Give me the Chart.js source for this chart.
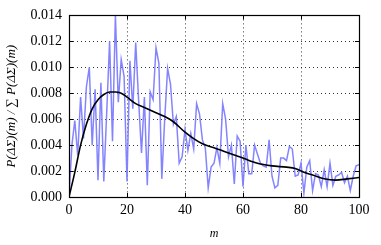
<!DOCTYPE html>
<html>
<head>
<meta charset="utf-8">
<script src="https://cdn.jsdelivr.net/npm/chart.js@4/dist/chart.umd.min.js"></script>
<style>
  html, body { margin: 0; padding: 0; background: #fff; }
  #wrap { width: 381px; height: 245px; }
</style>
</head>
<body>
<div id="wrap"><canvas id="c" width="381" height="245"></canvas></div>
<script>
// Noisy series: m = 0..100
const mValues = Array.from({length: 101}, (_, i) => i);
const noisySeries = [
  0.0000, 0.0040, 0.0059, 0.0032, 0.0077, 0.0045, 0.0085, 0.0100, 0.0040, 0.0083,
  0.0013, 0.0088, 0.0012, 0.0065, 0.0120, 0.0043, 0.0140, 0.0073, 0.0106, 0.0093,
  0.0012, 0.0105, 0.0068, 0.0119, 0.0075, 0.0034, 0.0077, 0.0009, 0.0081, 0.0075,
  0.0115, 0.0103, 0.0014, 0.0060, 0.0099, 0.0087, 0.0056, 0.0062, 0.0026, 0.0031,
  0.0052, 0.0036, 0.0049, 0.0037, 0.0072, 0.0064, 0.0044, 0.0038, 0.0007, 0.0023,
  0.0026, 0.0038, 0.0026, 0.0072, 0.0060, 0.0031, 0.0040, 0.0010, 0.0047, 0.0043,
  0.0008, 0.0040, 0.0018, 0.0018, 0.0040, 0.0033, 0.0026, 0.0024, 0.0023, 0.0044,
  0.0016, 0.0007, 0.0009, 0.0030, 0.0030, 0.0028, 0.0039, 0.0037, 0.0016, 0.0017,
  0.0026, 0.0003, 0.0023, 0.0028, 0.0005, 0.0018, 0.0017, 0.0008, 0.0021, 0.0008,
  0.0026, 0.0009, 0.0016, 0.0017, 0.0019, 0.0011, 0.0016, 0.0005, 0.0016, 0.0024,
  0.0025
];
// Smooth curve, sampled
const smoothM = [0, 2, 4, 6, 8, 10, 12, 14, 16, 18, 20, 23, 26, 30, 33, 36, 40, 43, 46, 50, 55, 60, 65, 70, 75, 78, 81, 84, 88, 92, 96, 100];
const smoothSeries = [0, 0.0019, 0.0040, 0.0056, 0.0068, 0.0075, 0.0079, 0.0081, 0.0081, 0.0080, 0.0077, 0.0072, 0.0069, 0.0065, 0.0062, 0.0058, 0.0050, 0.0045, 0.0041, 0.0038, 0.0034, 0.0030, 0.0026, 0.0024, 0.0023, 0.0022, 0.0019, 0.0017, 0.0014, 0.0013, 0.0014, 0.0015];
const xTicks = [0, 20, 40, 60, 80, 100];
const yTicks = [0, 0.002, 0.004, 0.006, 0.008, 0.010, 0.012, 0.014];

const SERIF = '"Liberation Serif", "DejaVu Serif", serif';

const framePlugin = {
  id: 'frame',
  afterDraw(chart) {
    const {ctx, chartArea: a, scales} = chart;
    ctx.save();
    ctx.strokeStyle = '#000';
    ctx.lineWidth = 1;
    const L = 4;
    ctx.beginPath();
    scales.x.ticks.forEach(t => {
      const x = Math.round(scales.x.getPixelForValue(t.value)) + 0.5;
      ctx.moveTo(x, a.bottom); ctx.lineTo(x, a.bottom - L);
      ctx.moveTo(x, a.top); ctx.lineTo(x, a.top + L);
    });
    scales.y.ticks.forEach(t => {
      const y = Math.round(scales.y.getPixelForValue(t.value)) + 0.5;
      ctx.moveTo(a.left, y); ctx.lineTo(a.left + L, y);
      ctx.moveTo(a.right, y); ctx.lineTo(a.right - L, y);
    });
    ctx.stroke();
    ctx.lineWidth = 1.2;
    ctx.strokeRect(Math.round(a.left) + 0.5, Math.round(a.top) + 0.5, Math.round(a.right - a.left), Math.round(a.bottom - a.top));
    ctx.restore();
  }
};

new Chart(document.getElementById('c'), {
  type: 'line',
  data: {
    datasets: [
      {
        data: mValues.map((m, i) => ({x: m, y: noisySeries[i]})),
        borderColor: 'rgba(125,125,255,0.95)',
        borderWidth: 1.5,
        pointRadius: 0,
        tension: 0,
        order: 2
      },
      {
        data: smoothM.map((m, i) => ({x: m, y: smoothSeries[i]})),
        borderColor: '#000',
        borderWidth: 1.6,
        pointRadius: 0,
        cubicInterpolationMode: 'monotone',
        order: 1
      }
    ]
  },
  options: {
    responsive: false,
    animation: false,
    devicePixelRatio: 1,
    layout: { padding: { left: 0, right: 22, top: 14, bottom: 0 } },
    plugins: { legend: { display: false }, tooltip: { enabled: false } },
    scales: {
      x: {
        type: 'linear', min: 0, max: 100,
        afterBuildTicks(s) { s.ticks = xTicks.map(v => ({value: v})); },
        afterFit(s) { s.height = 48; },
        grid: { color: '#000', lineWidth: 0.8, drawTicks: false },
        border: { display: false, dash: [1, 3] },
        ticks: { color: '#000', font: { family: SERIF, size: 14 }, padding: 5, maxRotation: 0,
                 callback: v => String(v) },
        title: { display: true, text: 'm', color: '#000', font: { family: SERIF, size: 12, style: 'italic' }, padding: { top: 4 } }
      },
      y: {
        type: 'linear', min: 0, max: 0.014,
        afterBuildTicks(s) { s.ticks = yTicks.map(v => ({value: v})); },
        afterFit(s) { s.width = 69; },
        grid: { color: '#000', lineWidth: 0.8, drawTicks: false },
        border: { display: false, dash: [1, 3] },
        ticks: { color: '#000', font: { family: SERIF, size: 14 }, padding: 7,
                 callback: v => Number(v).toFixed(3) },
        title: { display: true, text: 'P(ΔΣ)(m) / ∑ P(ΔΣ)(m)', color: '#000', font: { family: SERIF, size: 13, style: 'italic' }, padding: { bottom: 1 } }
      }
    }
  },
  plugins: [framePlugin]
});
</script>
</body>
</html>
